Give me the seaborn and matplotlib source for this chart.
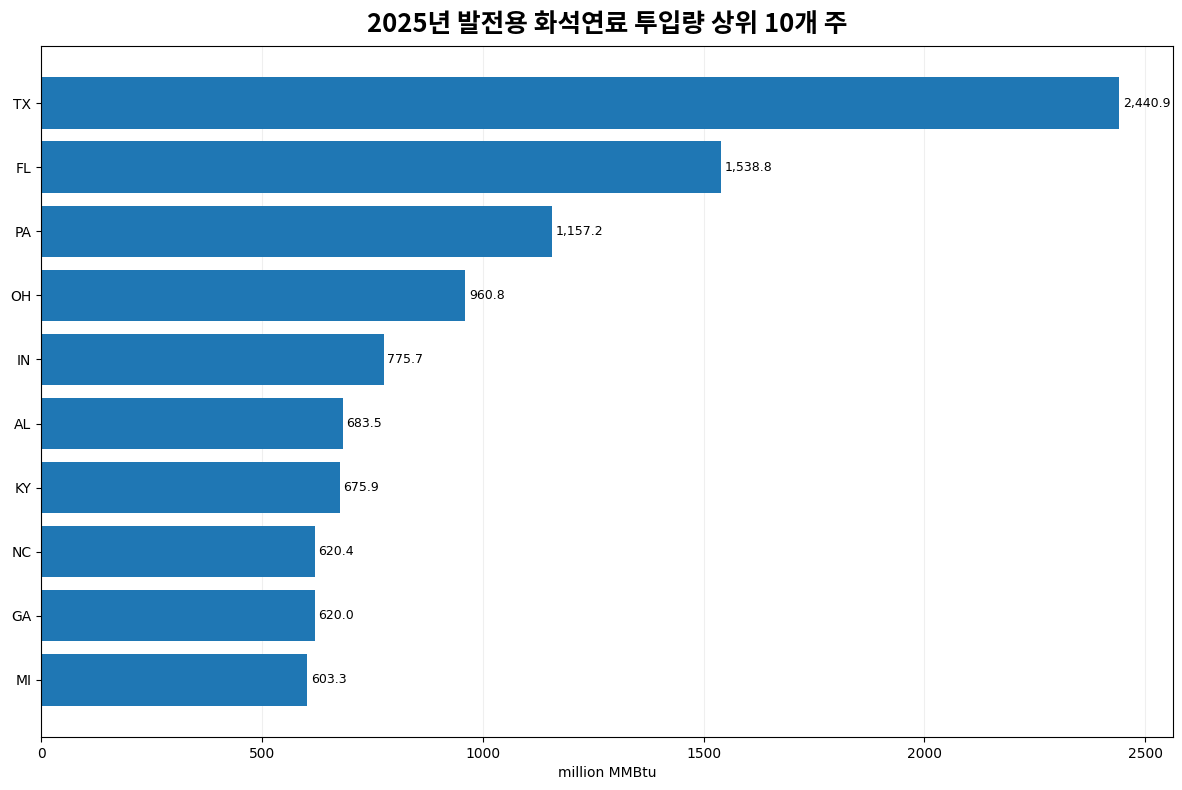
import pandas as pd
import matplotlib
matplotlib.use("Agg")
import matplotlib.pyplot as plt
import seaborn as sns

# 2025 fossil fuel consumption for electricity, top 10 states
states = ["TX", "FL", "PA", "OH", "IN", "AL", "KY", "NC", "GA", "MI"]
values = [2440.9, 1538.8, 1157.2, 960.8, 775.7, 683.5, 675.9, 620.4, 620.0, 603.3]

df = pd.DataFrame({"state": states, "value": values})

sns.set_style("ticks", rc={"text.color": "black", "axes.labelcolor": "black",
                           "xtick.color": "black", "ytick.color": "black",
                           "axes.edgecolor": "black"})
plt.rcParams['font.family'] = ['DejaVu Sans']

fig, ax = plt.subplots(figsize=(11.82, 7.9), dpi=100)
sns.barplot(data=df, x="value", y="state", orient="h", color="#1f77b4",
            saturation=1, width=0.8, linewidth=0, ax=ax)

for i, v in enumerate(values):
    ax.text(v + 8, i, f"{v:,.1f}", va="center", ha="left", fontsize=9)

ax.set_xlim(0, max(values) * 1.05)
ax.set_ylim(9.89, -0.89)
ax.grid(axis="x", alpha=0.3)
ax.set_axisbelow(True)
ax.set_title("2025년 발전용 화석연료 투입량 상위 10개 주", fontsize=18.5,
             fontweight="bold", pad=10,
             family=['Noto Sans CJK KR', 'DejaVu Sans'])
ax.set_xlabel("million MMBtu", fontsize=10)
ax.set_ylabel("")
ax.tick_params(labelsize=10)
for s in ax.spines.values():
    s.set_visible(True)

fig.subplots_adjust(left=0.0347, right=0.9924, top=0.9418, bottom=0.0671)
plt.savefig("out.png")
